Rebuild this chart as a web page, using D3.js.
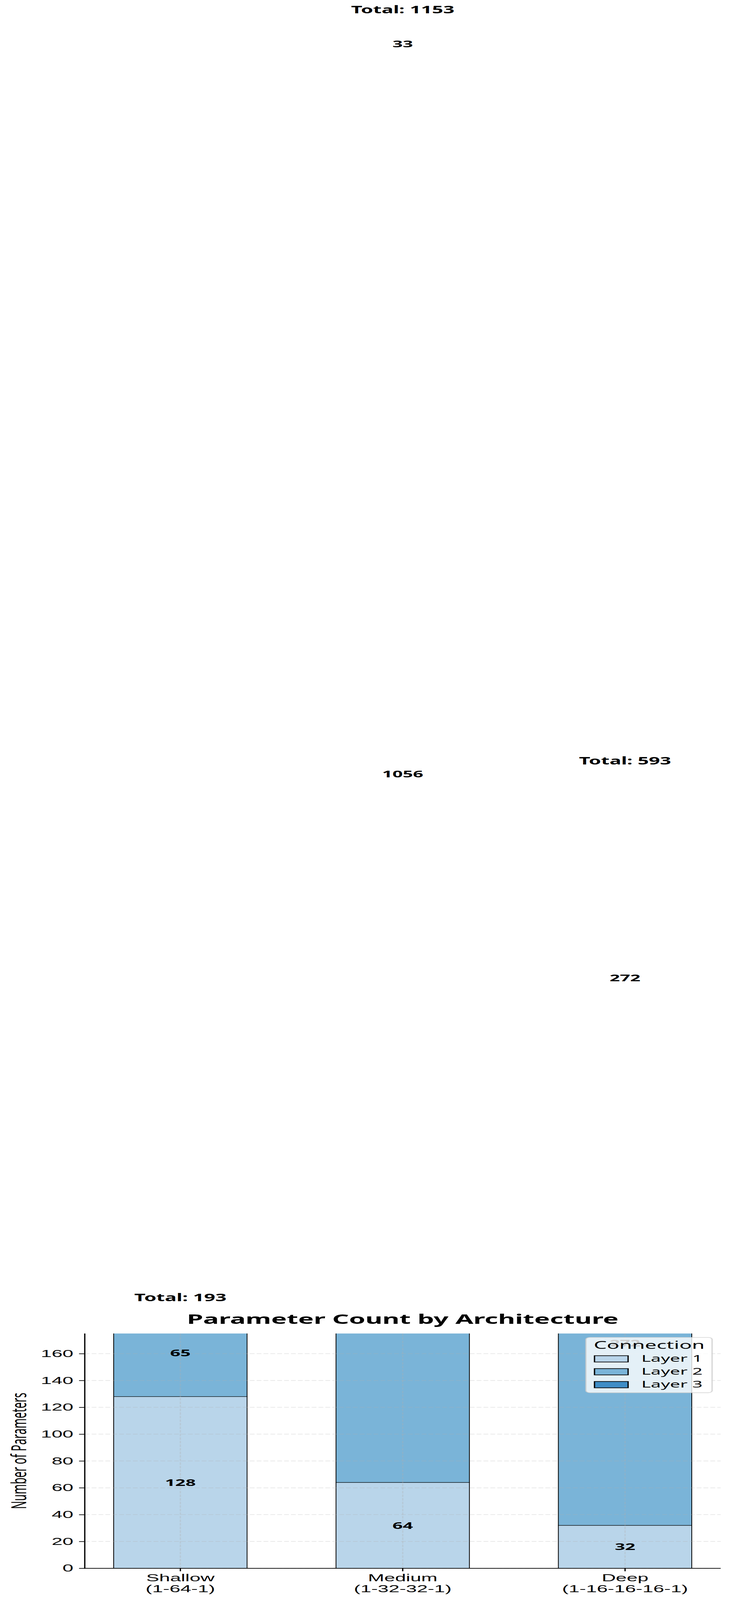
<!DOCTYPE html>
<html>
<head>
<meta charset="utf-8">
<script src="https://cdn.jsdelivr.net/npm/d3@7"></script>
<style>
  html, body { margin: 0; background: #fff; overflow: hidden; }
  svg { display: block; font-family: "Noto Sans", "DejaVu Sans", sans-serif; }
</style>
</head>
<body>
<div id="chart"></div>
<script>
// chart data
var architectures = ["Shallow", "Medium", "Deep"];
var archShapes = ["(1-64-1)", "(1-32-32-1)", "(1-16-16-16-1)"];
var layer1 = [128, 64, 32];
var layer2 = [65, 1056, 272];
var layer3 = [0, 33, 272];
var layer4 = [0, 0, 17];
var layerNames = ["Layer 1", "Layer 2", "Layer 3", "Layer 4"];
var legendLayers = ["Layer 1", "Layer 2", "Layer 3"];
var layerColors = ["#b9d5ea", "#7ab4d8", "#3f8dc6", "#1d64a8"];
var yTicks = [0, 20, 40, 60, 80, 100, 120, 140, 160];
var yMax = 175;

// the figure is 1874 x 7872; fit it to the window if the window is shorter
var W = 1874, H = 7872;
var viewH = Math.min(H, window.innerHeight || H);
var plot = { left: 217, right: 1845, top: 6561, bottom: 7716 };

var rows = architectures.map(function(a, i) {
  return { arch: a, "Layer 1": layer1[i], "Layer 2": layer2[i], "Layer 3": layer3[i], "Layer 4": layer4[i] };
});
var totals = rows.map(function(r) {
  return d3.sum(layerNames, function(k) { return r[k]; });
});

var xScale = d3.scaleBand()
  .domain(architectures)
  .range([plot.left, plot.right])
  .paddingInner(0.4)
  .paddingOuter(0.13);

var yScale = d3.scaleLinear()
  .domain([0, yMax])
  .range([plot.bottom, plot.top]);

var colorScale = d3.scaleOrdinal().domain(layerNames).range(layerColors);

var series = d3.stack().keys(layerNames)(rows);

var svg = d3.select("#chart").append("svg")
  .attr("width", W)
  .attr("height", viewH)
  .attr("viewBox", "0 0 " + W + " " + H)
  .attr("preserveAspectRatio", "none");

svg.append("rect").attr("width", W).attr("height", H).attr("fill", "#fff");

svg.append("clipPath").attr("id", "plot-clip")
  .append("rect")
  .attr("x", plot.left).attr("y", plot.top)
  .attr("width", plot.right - plot.left)
  .attr("height", plot.bottom - plot.top);

/* stacked bars */
var barLayer = svg.append("g").attr("clip-path", "url(#plot-clip)");
series.forEach(function(s) {
  barLayer.selectAll(null)
    .data(s.filter(function(d) { return d[1] > d[0]; }))
    .enter()
    .append("rect")
    .attr("x", function(d) { return xScale(d.data.arch); })
    .attr("width", xScale.bandwidth())
    .attr("y", function(d) { return yScale(d[1]); })
    .attr("height", function(d) { return yScale(d[0]) - yScale(d[1]); })
    .attr("fill", colorScale(s.key))
    .attr("stroke", "#000")
    .attr("stroke-width", 2);
});

/* grid (above bars) */
var grid = svg.append("g").attr("stroke", "#b0b0b0").attr("stroke-opacity", 0.3)
  .attr("stroke-width", 3.3).attr("stroke-dasharray", "12.3,5.3");
grid.selectAll(null).data(yTicks).enter().append("line")
  .attr("x1", plot.left).attr("x2", plot.right)
  .attr("y1", function(d) { return yScale(d); })
  .attr("y2", function(d) { return yScale(d); });
grid.selectAll(null).data(architectures).enter().append("line")
  .attr("y1", plot.top).attr("y2", plot.bottom)
  .attr("x1", function(d) { return xScale(d) + xScale.bandwidth() / 2; })
  .attr("x2", function(d) { return xScale(d) + xScale.bandwidth() / 2; });

/* axes */
var yAxis = d3.axisLeft(yScale).tickValues(yTicks).tickSize(14.6).tickPadding(14.6);
var gy = svg.append("g")
  .attr("transform", "translate(" + plot.left + ",0)")
  .call(yAxis);
gy.select(".domain").remove();
gy.selectAll("line").attr("stroke", "#000").attr("stroke-width", 3.3);
gy.selectAll("text").attr("font-size", 50).attr("fill", "#000");

var xAxis = d3.axisBottom(xScale).tickSize(14.6).tickPadding(14.6).tickFormat("");
var gx = svg.append("g")
  .attr("transform", "translate(0," + plot.bottom + ")")
  .call(xAxis);
gx.select(".domain").remove();
gx.selectAll("line").attr("stroke", "#000").attr("stroke-width", 3.3);
gx.selectAll(".tick").each(function(d, i) {
  var t = d3.select(this).append("text")
    .attr("text-anchor", "middle")
    .attr("font-size", 50)
    .attr("fill", "#000");
  t.append("tspan").attr("x", 0).attr("y", 64).text(d);
  t.append("tspan").attr("x", 0).attr("y", 117).text(archShapes[i]);
});

/* spines */
svg.append("line")
  .attr("x1", plot.left).attr("x2", plot.left)
  .attr("y1", plot.top).attr("y2", plot.bottom + 1.6)
  .attr("stroke", "#000").attr("stroke-width", 3.3);
svg.append("line")
  .attr("x1", plot.left - 1.6).attr("x2", plot.right)
  .attr("y1", plot.bottom).attr("y2", plot.bottom)
  .attr("stroke", "#000").attr("stroke-width", 3.3);

/* segment labels */
var labelLayer = svg.append("g");
series.forEach(function(s) {
  labelLayer.selectAll(null)
    .data(s.filter(function(d) { return d[1] - d[0] > 20; }))
    .enter()
    .append("text")
    .attr("x", function(d) { return xScale(d.data.arch) + xScale.bandwidth() / 2; })
    .attr("y", function(d) { return yScale((d[0] + d[1]) / 2); })
    .attr("dy", "0.36em")
    .attr("text-anchor", "middle")
    .attr("font-size", 46)
    .attr("font-weight", "bold")
    .text(function(d) { return d[1] - d[0]; });
});

/* total labels */
labelLayer.selectAll(null)
  .data(architectures)
  .enter()
  .append("text")
  .attr("x", function(d) { return xScale(d) + xScale.bandwidth() / 2; })
  .attr("y", function(d, i) { return yScale(totals[i]) - 41; })
  .attr("text-anchor", "middle")
  .attr("font-size", 50)
  .attr("font-weight", "bold")
  .text(function(d, i) { return "Total: " + totals[i]; });

/* title and y label */
svg.append("text")
  .attr("x", (plot.left + plot.right) / 2)
  .attr("y", 6514)
  .attr("text-anchor", "middle")
  .attr("font-size", 67)
  .attr("font-weight", "bold")
  .text("Parameter Count by Architecture");

svg.append("text")
  .attr("transform", "translate(67," + (plot.top + plot.bottom) / 2 + ") rotate(-90)")
  .attr("text-anchor", "middle")
  .attr("font-size", 53)
  .text("Number of Parameters");

/* legend */
var legend = svg.append("g").attr("transform", "translate(1500,6580)");
legend.append("rect")
  .attr("width", 323).attr("height", 272)
  .attr("rx", 10).attr("ry", 10)
  .attr("fill", "#fff").attr("fill-opacity", 0.8)
  .attr("stroke", "#cccccc").attr("stroke-opacity", 0.8)
  .attr("stroke-width", 3.3);
legend.append("text")
  .attr("x", 162).attr("y", 56)
  .attr("text-anchor", "middle")
  .attr("font-size", 53)
  .text("Connection");
var items = legend.selectAll(".item")
  .data(legendLayers)
  .enter()
  .append("g")
  .attr("class", "item")
  .attr("transform", function(d, i) { return "translate(22," + (90 + i * 63.5) + ")"; });
items.append("rect")
  .attr("width", 86).attr("height", 31)
  .attr("fill", function(d) { return colorScale(d); })
  .attr("stroke", "#000")
  .attr("stroke-width", 3.3);
items.append("text")
  .attr("x", 120).attr("y", 29)
  .attr("font-size", 46)
  .text(function(d) { return d; });
</script>
</body>
</html>
